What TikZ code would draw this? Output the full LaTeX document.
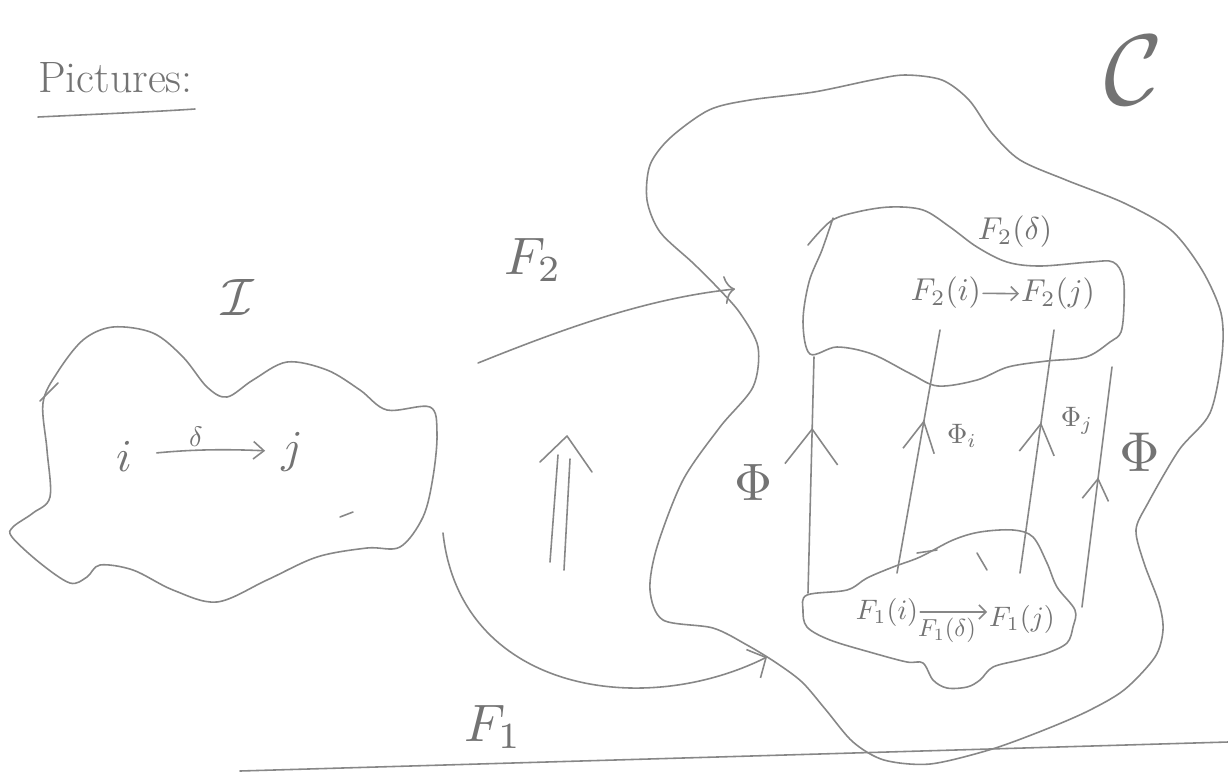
\documentclass[tikz,border=0pt]{standalone}
\usepackage{graphicx}
\usetikzlibrary{arrows.meta,decorations.markings}
\definecolor{pen}{RGB}{135,135,135}
\definecolor{ink}{RGB}{115,115,115}
\newcommand{\fsz}[1]{\fontsize{#1}{#1}\selectfont}
\newcommand{\mbx}[2]{\scalebox{#1}{#2}}
\begin{document}
\begin{tikzpicture}[x=0.02cm,y=-0.02cm,
  stroke/.style={draw=pen,color=pen,line width=0.9pt,line cap=round,line join=round},
  lbl/.style={text=ink,inner sep=1pt},
  upmark/.style n args={3}{postaction={decorate},decoration={markings,mark=at position #1 with {\arrow{Straight Barb[length=#2,width=#3,line width=0.9pt]}}}}
]
\useasboundingbox (0,0) rectangle (1228,772);
\fill[white] (0,0) rectangle (1228,772);

% ---- title and category letters
\node[lbl,anchor=base west,font=\fsz{25}] (title) at (36,92) {Pictures:};
\draw[stroke] (38,117) .. controls (100,114) and (150,112) .. (195,109);
\node[lbl,inner sep=0pt] (catC) at (1134,70) {\mbx{5.7}{$\mathcal{C}$}};
\node[lbl] (catI) at (238,297) {\mbx{3}{$\mathcal{I}$}};

% ---- left blob (I)
\draw[stroke] plot[smooth cycle,tension=0.55] coordinates {
 (43,403) (57,373) (83,340) (113,327) (153,333) (183,357) (207,387) (227,397)
 (253,380) (287,362) (327,370) (360,390) (387,410) (430,407) (437,433) (433,477)
 (423,517) (400,547) (367,548) (317,557) (267,580) (217,602) (173,590) (133,570)
 (100,565) (87,577) (70,583) (40,563) (12,537) (13,527) (33,513) (50,497) (47,450)};
\draw[stroke] (40,401) -- (58,383);
\draw[stroke] (340,517) -- (353,512);

\node[lbl] (ni) at (124,456) {\mbx{2.6}{$i$}};
\node[lbl] (nj) at (292,452) {\mbx{2.6}{$j$}};
\draw[stroke,-{Straight Barb[length=6pt,width=10pt,line width=0.9pt]},shorten <=13pt,shorten >=8pt]
  (ni) to[bend left=4] node[lbl,pos=0.42,above=1pt] (delta) {\mbx{1.6}{$\delta$}} (nj);

% ---- functors F1, F2
\node[lbl] (lF2) at (533,260) {\mbx{3}{$F_2$}};
\node[lbl] (lF1) at (493,727) {\mbx{3}{$F_1$}};
\coordinate (f2s) at (478,363);
\coordinate (f2e) at (735,289);
\draw[stroke,-{To[length=6pt,width=16pt]}] (f2s) .. controls (570,326) and (650,298) .. (f2e);
\coordinate (f1s) at (443,533);
\coordinate (f1e) at (767,657);
\draw[stroke,-{Straight Barb[length=8pt,width=18pt,line width=0.9pt]}] (f1s) .. controls (460,690) and (640,720) .. (f1e);

% ---- double arrow (natural transformation)
\draw[stroke] (550,562) -- (558,455);
\draw[stroke] (564,570) -- (570,459);
\draw[stroke] (540,462) -- (567,436) -- (592,472);

% ---- big blob (C)
\draw[stroke] plot[smooth cycle,tension=0.5] coordinates {
 (650,165) (670,138) (709,110) (750,100) (814,92) (872,80) (905,75) (942,80)
 (969,100) (992,133) (1020,160) (1066,180) (1124,203) (1171,230) (1202,270)
 (1221,313) (1222,355) (1210,413) (1179,450) (1148,503) (1136,530) (1144,563)
 (1159,603) (1163,630) (1155,657) (1124,690) (1086,712) (1039,732) (989,750)
 (930,764) (884,760) (853,742) (826,710) (802,682) (775,662) (747,645) (713,628)
 (663,620) (650,590) (657,547) (683,480) (720,427) (753,387) (758,347) (740,313)
 (717,287) (693,263) (660,232) (647,200)};

% ---- upper inner blob (image of F2)
\draw[stroke] plot[smooth,tension=0.55] coordinates {
 (808,245) (831,221) (857,212) (890,207) (923,210) (950,227) (977,247) (1007,262)
 (1040,266) (1090,262) (1113,262) (1123,277) (1124,305) (1121,332) (1110,342)
 (1086,357) (1047,361) (1008,367) (977,380) (938,386) (911,374) (872,354)
 (837,347) (810,354) (803,322) (809,282) (822,250) (833,218)};
\node[lbl] (F2d) at (1015,232) {\mbx{1.8}{$F_2(\delta)$}};
\node[lbl] (F2i) at (946,293) {\mbx{1.8}{$F_2(i)$}};
\node[lbl] (F2j) at (1058,294) {\mbx{1.8}{$F_2(j)$}};
\draw[stroke,-{Straight Barb[length=4pt,width=8pt,line width=0.9pt]}] (F2i) -- (F2j);

% ---- lower inner blob (image of F1)
\draw[stroke] plot[smooth cycle,tension=0.55] coordinates {
 (807,595) (847,590) (867,578) (893,567) (920,557) (953,540) (980,532) (1013,530)
 (1033,537) (1047,563) (1057,587) (1075,610) (1073,627) (1067,643) (1047,653)
 (1020,660) (993,667) (980,680) (967,687) (947,688) (933,680) (923,663) (907,662)
 (873,653) (830,640) (807,627) (803,610)};
\draw[stroke] (917,553) -- (937,550);
\draw[stroke] (977,553) -- (987,570);
\node[lbl,anchor=base] (F1i) at (887,619) {\mbx{1.6}{$F_1(i)$}};
\node[lbl,anchor=base] (F1j) at (1022,626) {\mbx{1.6}{$F_1(j)$}};
\draw[stroke,-{Straight Barb[length=4pt,width=8pt,line width=0.9pt]}]
  (F1i.east) -- (F1i.east -| F1j.west) node[lbl,pos=0.4,below=2pt] (F1d) {\mbx{1.4}{$F_1(\delta)$}};

% ---- components of Phi
\coordinate (pLb) at (808,593);  \coordinate (pLt) at (814,357);
\coordinate (pIb) at (897,573);  \coordinate (pIt) at (940,330);
\coordinate (pJb) at (1020,573); \coordinate (pJt) at (1054,330);
\coordinate (pRb) at (1082,607); \coordinate (pRt) at (1112,367);
\draw[stroke,upmark={0.70}{20pt}{30pt}] (pLb) -- (pLt);
\draw[stroke,upmark={0.63}{17pt}{18pt}] (pIb) -- (pIt);
\draw[stroke,upmark={0.62}{17pt}{20pt}] (pJb) -- (pJt);
\draw[stroke,upmark={0.54}{12pt}{15pt}] (pRb) -- (pRt);
\node[lbl] (phiL) at (754,482) {\mbx{3}{$\Phi$}};
\node[lbl] (phiI) at (962,436) {\mbx{1.6}{$\Phi_i$}};
\node[lbl] (phiJ) at (1077,421) {\mbx{1.6}{$\Phi_j$}};
\node[lbl] (phiR) at (1140,452) {\mbx{3.2}{$\Phi$}};

% ---- base line
\coordinate (bl1) at (240,771);
\coordinate (bl2) at (1228,742);
\draw[stroke] (bl1) -- (bl2);
\end{tikzpicture}
\end{document}
